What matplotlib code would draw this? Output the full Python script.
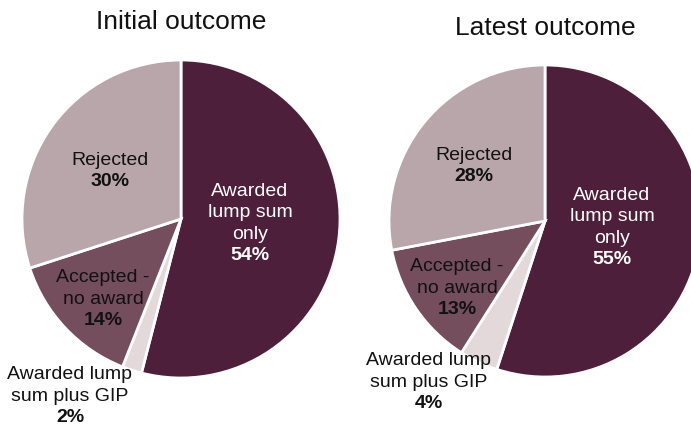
import matplotlib.pyplot as plt

# data
categories = ["Awarded\nlump sum\nonly", "Awarded lump\nsum plus GIP", "Accepted -\nno award", "Rejected"]
initial = [54, 2, 14, 30]
latest = [55, 4, 13, 28]
titles = ["Initial outcome", "Latest outcome"]

colors = ["#4E1F3A", "#E3D9DB", "#744E5C", "#B9A6AB"]
text_colors = ["white", "#111111", "#111111", "#111111"]

plt.rcParams['font.family'] = ['Liberation Sans', 'DejaVu Sans']

W, H = 691, 425
fig = plt.figure(figsize=(W / 100, H / 100), dpi=100)
ax = fig.add_axes([0, 0, 1, 1])

# pie layout in pixels (y measured from bottom); offsets mark the gap
# between the label text and its bold percentage
pies = [
    {"vals": initial, "center": (181, H - 219), "r": 159, "title_y": H - 22,
     "offsets": [(69, -25), (-111, -187), (-78, -90), (-71, 49)]},
    {"vals": latest, "center": (545, H - 221), "r": 156, "title_y": H - 28,
     "offsets": [(67, -27), (-116, -171), (-88, -77), (-71, 56)]},
]

for p, title in zip(pies, titles):
    cx, cy = p["center"]
    ax.pie(p["vals"], colors=colors, startangle=90, counterclock=False,
           center=(cx, cy), radius=p["r"], frame=True,
           wedgeprops=dict(edgecolor="white", linewidth=2))
    ax.text(cx, p["title_y"], title, ha="center", va="center", fontsize=19, color="#111111")
    for cat, val, (dx, dy), tc in zip(categories, p["vals"], p["offsets"], text_colors):
        ax.text(cx + dx, cy + dy + 1, cat, ha="center", va="bottom",
                fontsize=14, color=tc, linespacing=1.36)
        ax.text(cx + dx, cy + dy - 3, f"{val}%", ha="center", va="top",
                fontsize=14, color=tc, fontweight="bold")

ax.set_xlim(0, W)
ax.set_ylim(0, H)
ax.set_aspect('equal')
ax.axis('off')

fig.savefig("out.png", dpi=100, facecolor="white")
